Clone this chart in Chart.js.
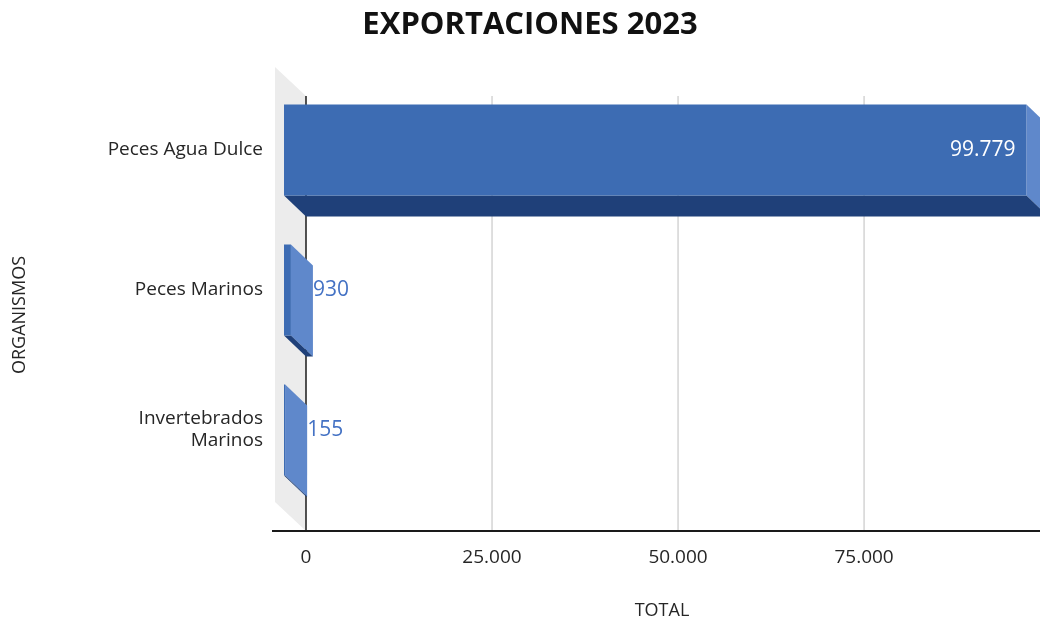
<!DOCTYPE html>
<html>
<head>
<meta charset="utf-8">
<script src="https://cdn.jsdelivr.net/npm/chart.js@4.4.1/dist/chart.umd.min.js"></script>
<style>
  html, body { margin: 0; padding: 0; background: #fff; }
  #wrap { width: 1040px; height: 622px; }
</style>
</head>
<body>
<div id="wrap"><canvas id="chart"></canvas></div>
<script>
// Datos
const categories = ['Peces Agua Dulce', 'Peces Marinos', ['Invertebrados', 'Marinos']];
const totals = [99779, 930, 155];
const xTickValues = [0, 25000, 50000, 75000];
const xMax = 101600;

// Profundidad del efecto 3D
const DX = 22, DY = 21;
const FONT = "'Open Sans', sans-serif";

const fmt = v => String(v).replace(/\B(?=(\d{3})+(?!\d))/g, '.');

// Pared, cuadrícula y caras laterales de las barras
const faces3d = {
  id: 'faces3d',
  beforeDatasetsDraw(chart) {
    const { ctx, chartArea: a, scales: { x } } = chart;
    const x0 = x.getPixelForValue(0) + DX;
    const top = a.top + 16, bottom = a.bottom + 31;
    ctx.save();

    // pared lateral
    ctx.fillStyle = '#ececec';
    ctx.beginPath();
    ctx.moveTo(x0 - 31, top - 29);
    ctx.lineTo(x0, top);
    ctx.lineTo(x0, bottom);
    ctx.lineTo(x0 - 31, bottom - 29);
    ctx.closePath();
    ctx.fill();

    // líneas de cuadrícula
    ctx.lineWidth = 1.5;
    xTickValues.forEach(v => {
      if (v === 0) return;
      const px = x.getPixelForValue(v) + DX;
      ctx.strokeStyle = '#d4d4d4';
      ctx.beginPath(); ctx.moveTo(px, top); ctx.lineTo(px, bottom); ctx.stroke();
    });

    // eje vertical
    ctx.strokeStyle = '#1a1a1a';
    ctx.beginPath(); ctx.moveTo(x0, top); ctx.lineTo(x0, bottom); ctx.stroke();

    // eje horizontal
    ctx.lineWidth = 2;
    ctx.beginPath(); ctx.moveTo(x0 - 34, bottom); ctx.lineTo(a.right, bottom); ctx.stroke();

    // caras laterales e inferiores
    const meta = chart.getDatasetMeta(0);
    meta.data.forEach(bar => {
      const { x: xe, y: yc, base, height } = bar.getProps(['x', 'y', 'base', 'height'], true);
      const t = yc - height / 2, b = yc + height / 2;
      ctx.fillStyle = '#5f88cb';
      ctx.beginPath();
      ctx.moveTo(xe, t); ctx.lineTo(xe + DX, t + DY); ctx.lineTo(xe + DX, b + DY); ctx.lineTo(xe, b);
      ctx.closePath(); ctx.fill();
      ctx.fillStyle = '#1f4079';
      ctx.beginPath();
      ctx.moveTo(base, b); ctx.lineTo(xe, b); ctx.lineTo(xe + DX, b + DY); ctx.lineTo(base + DX, b + DY);
      ctx.closePath(); ctx.fill();
    });
    ctx.restore();
  },
  afterDatasetsDraw(chart) {
    const { ctx } = chart;
    const meta = chart.getDatasetMeta(0);
    ctx.save();
    ctx.font = `21px ${FONT}`;
    ctx.textBaseline = 'middle';
    meta.data.forEach((bar, i) => {
      const { x: xe, y: yc } = bar.getProps(['x', 'y'], true);
      if (totals[i] > xMax / 2) {
        ctx.fillStyle = '#ffffff';
        ctx.textAlign = 'right';
        ctx.fillText(fmt(totals[i]), xe - 11, yc);
      } else {
        ctx.fillStyle = '#4472c4';
        ctx.textAlign = 'left';
        ctx.fillText(fmt(totals[i]), xe + DX, yc);
      }
    });
    ctx.restore();
  },
  afterDraw(chart) {
    // título del eje Y
    const { ctx, chartArea: a } = chart;
    ctx.save();
    ctx.translate(20, (a.top + a.bottom) / 2 + 25);
    ctx.rotate(-Math.PI / 2);
    ctx.font = `18px ${FONT}`;
    ctx.fillStyle = '#262626';
    ctx.textAlign = 'center';
    ctx.textBaseline = 'middle';
    ctx.fillText('ORGANISMOS', 0, 0);
    ctx.restore();
  }
};

new Chart(document.getElementById('chart'), {
  type: 'bar',
  data: {
    labels: categories,
    datasets: [{
      data: totals,
      backgroundColor: '#3d6cb3',
      borderWidth: 0,
      categoryPercentage: 1,
      barPercentage: 0.65
    }]
  },
  options: {
    indexAxis: 'y',
    responsive: true,
    maintainAspectRatio: false,
    animation: false,
    layout: { padding: { left: 20, right: 0, top: 0, bottom: 0 } },
    plugins: {
      legend: { display: false },
      tooltip: { enabled: false },
      title: {
        display: true,
        text: 'EXPORTACIONES 2023',
        color: '#111',
        font: { family: FONT, size: 31, weight: 'bold' },
        padding: { top: 6.4, bottom: 36.4 }
      }
    },
    scales: {
      x: {
        type: 'linear',
        min: 0,
        max: xMax,
        afterBuildTicks: s => { s.ticks = xTickValues.map(v => ({ value: v })); },
        afterFit: s => { s.height = 122; },
        grid: { display: false },
        border: { display: false },
        ticks: {
          padding: 38,
          labelOffset: DX,
          color: '#262626',
          font: { family: FONT, size: 19 },
          callback: v => fmt(v)
        },
        title: {
          display: true,
          text: 'TOTAL',
          color: '#262626',
          font: { family: FONT, size: 18 },
          padding: { top: 0, bottom: 0 }
        }
      },
      y: {
        afterFit: s => { s.width = 264; },
        grid: { display: false },
        border: { display: false },
        ticks: {
          padding: 13,
          color: '#262626',
          font: { family: FONT, size: 19, lineHeight: 1.15 }
        }
      }
    }
  },
  plugins: [faces3d]
});
</script>
</body>
</html>
